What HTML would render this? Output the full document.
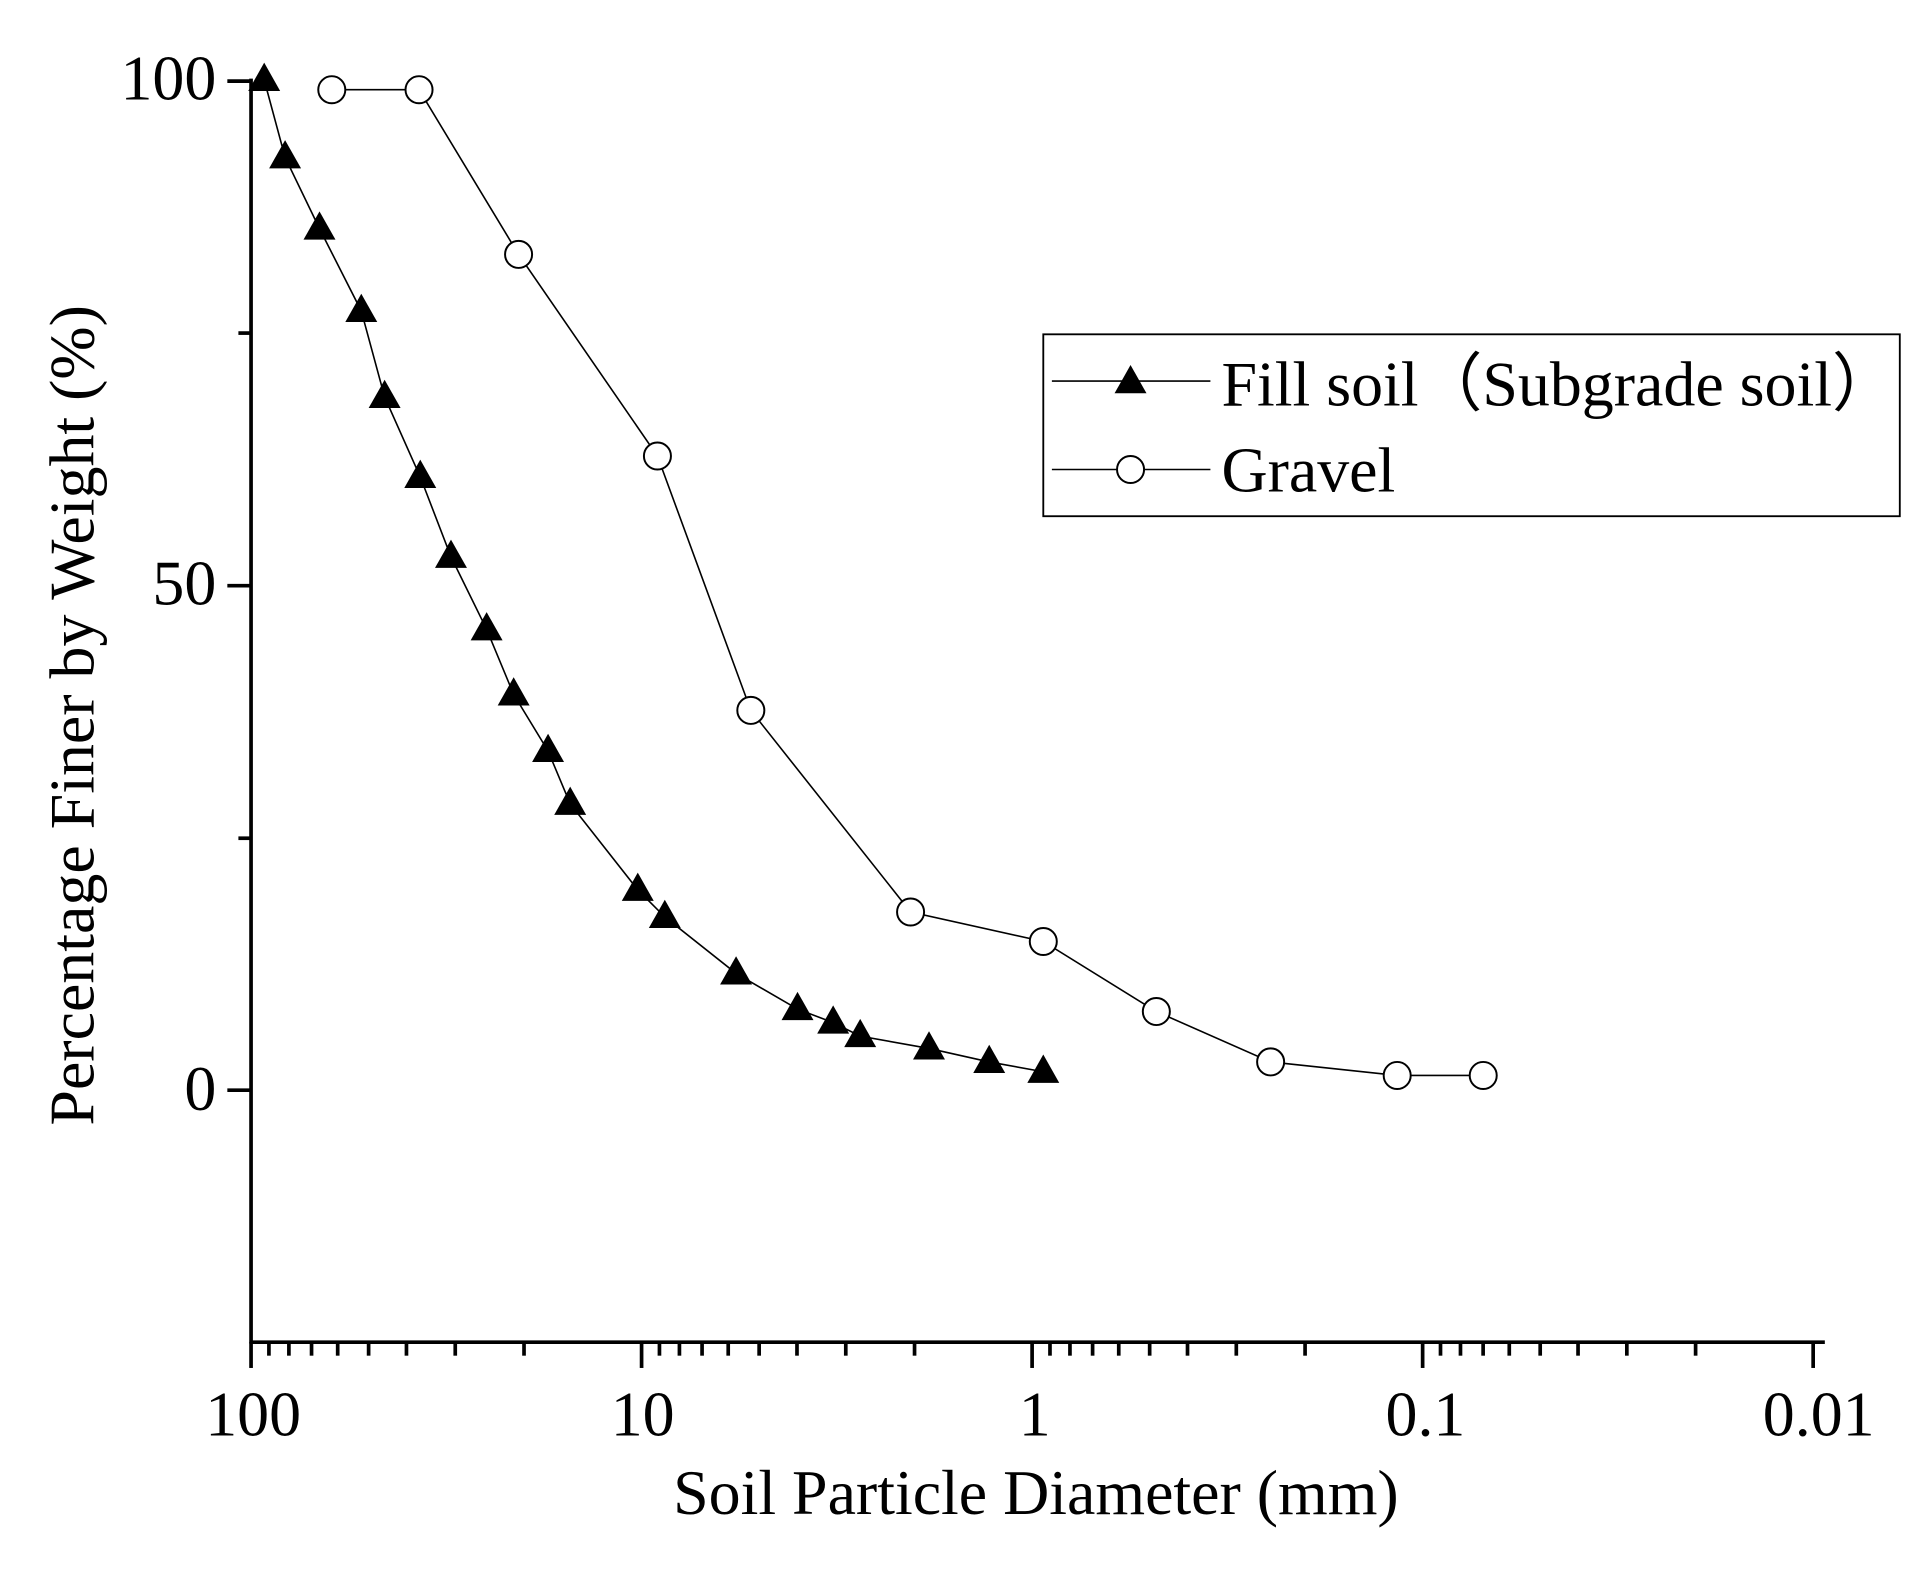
<!DOCTYPE html>
<html><head><meta charset="utf-8"><style>
html,body{margin:0;padding:0;background:#fff;}
svg{display:block;}
text{font-family:"Liberation Serif",serif;fill:#000;}
</style></head><body>
<svg id="s" width="1917" height="1572" viewBox="0 0 1560 1279" preserveAspectRatio="none" xmlns="http://www.w3.org/2000/svg">
<g id="ax" stroke="#000" stroke-width="3" fill="none">
<line x1="204.3" y1="64" x2="204.3" y2="1093"/>
<line x1="203" y1="1092" x2="1485" y2="1092"/>
<line x1="185" y1="66" x2="204" y2="66"/>
<line x1="185" y1="476.5" x2="204" y2="476.5"/>
<line x1="185" y1="887" x2="204" y2="887"/>
<line x1="194" y1="271" x2="204" y2="271"/>
<line x1="194" y1="682" x2="204" y2="682"/>
</g>
<g id="ticks" stroke="#000" stroke-width="3"></g>
<g font-size="52" text-anchor="end">
<text x="176" y="81">100</text>
<text x="176" y="492">50</text>
<text x="176" y="903">0</text>
</g>
<g font-size="52" text-anchor="middle">
<text x="206" y="1168">100</text>
<text x="523" y="1168">10</text>
<text x="842" y="1168">1</text>
<text x="1160" y="1168">0.1</text>
<text x="1480" y="1168">0.01</text>
</g>
<text x="843" y="1232" font-size="52" text-anchor="middle">Soil Particle Diameter (mm)</text>
<text transform="translate(76,582) rotate(-90)" font-size="52" text-anchor="middle">Percentage Finer by Weight (%)</text>
<polyline fill="none" stroke="#000" stroke-width="1.3" points="215,65 232,128 260,186 294,253 313,323 342,388 367,453 396,512 418,565 446,611 464,654 519,724 541,746 599,792 649,821 678,832 700,843 756,853 805,864 849,872"/>
<polyline fill="none" stroke="#000" stroke-width="1.3" points="270,73 341,73 422,207 535,371 611,578 741,742 849,766 941,823 1034,864 1137,875 1207,875"/>
<g id="tri" fill="#000"></g>
<g id="cir" fill="#fff" stroke="#000" stroke-width="1.6"></g>
<rect x="849" y="272" width="697" height="148" fill="none" stroke="#000" stroke-width="1.5"/>
<line x1="856" y1="310" x2="985" y2="310" stroke="#000" stroke-width="1.3"/>
<polygon points="920,297 907,320 933,320" fill="#000"/>
<line x1="856" y1="382" x2="985" y2="382" stroke="#000" stroke-width="1.3"/>
<circle cx="920" cy="382" r="11" fill="#fff" stroke="#000" stroke-width="1.6"/>
<text x="994" y="330" font-size="52" font-family="'Liberation Serif','Noto Serif CJK SC',serif">Fill soil（Subgrade soil）</text>
<text x="994" y="400" font-size="52">Gravel</text>
</svg>
<script>
var NS="http://www.w3.org/2000/svg";
function el(p,n,a){var e=document.createElementNS(NS,n);for(var k in a)e.setAttribute(k,a[k]);document.getElementById(p).appendChild(e);}
var x0=204.3,d=317.8;
for(var k=0;k<4;k++){for(var m=2;m<=9;m++){var x=x0+d*k+d*(-Math.log10(m/10));el("ticks","line",{x1:x,y1:1092,x2:x,y2:1103});}}
for(var k=0;k<5;k++){var x=x0+d*k;el("ticks","line",{x1:x,y1:1092,x2:x,y2:1113});}
var tr=[[215,65],[232,128],[260,186],[294,253],[313,323],[342,388],[367,453],[396,512],[418,565],[446,611],[464,654],[519,724],[541,746],[599,792],[649,821],[678,832],[700,843],[756,853],[805,864],[849,872]];
tr.forEach(function(p){var x=p[0],y=p[1];el("tri","polygon",{points:(x)+","+(y-14)+" "+(x-13)+","+(y+9)+" "+(x+13)+","+(y+9)});});
var ci=[[270,73],[341,73],[422,207],[535,371],[611,578],[741,742],[849,766],[941,823],[1034,864],[1137,875],[1207,875]];
ci.forEach(function(p){el("cir","circle",{cx:p[0],cy:p[1],r:11});});
</script>
</body></html>
